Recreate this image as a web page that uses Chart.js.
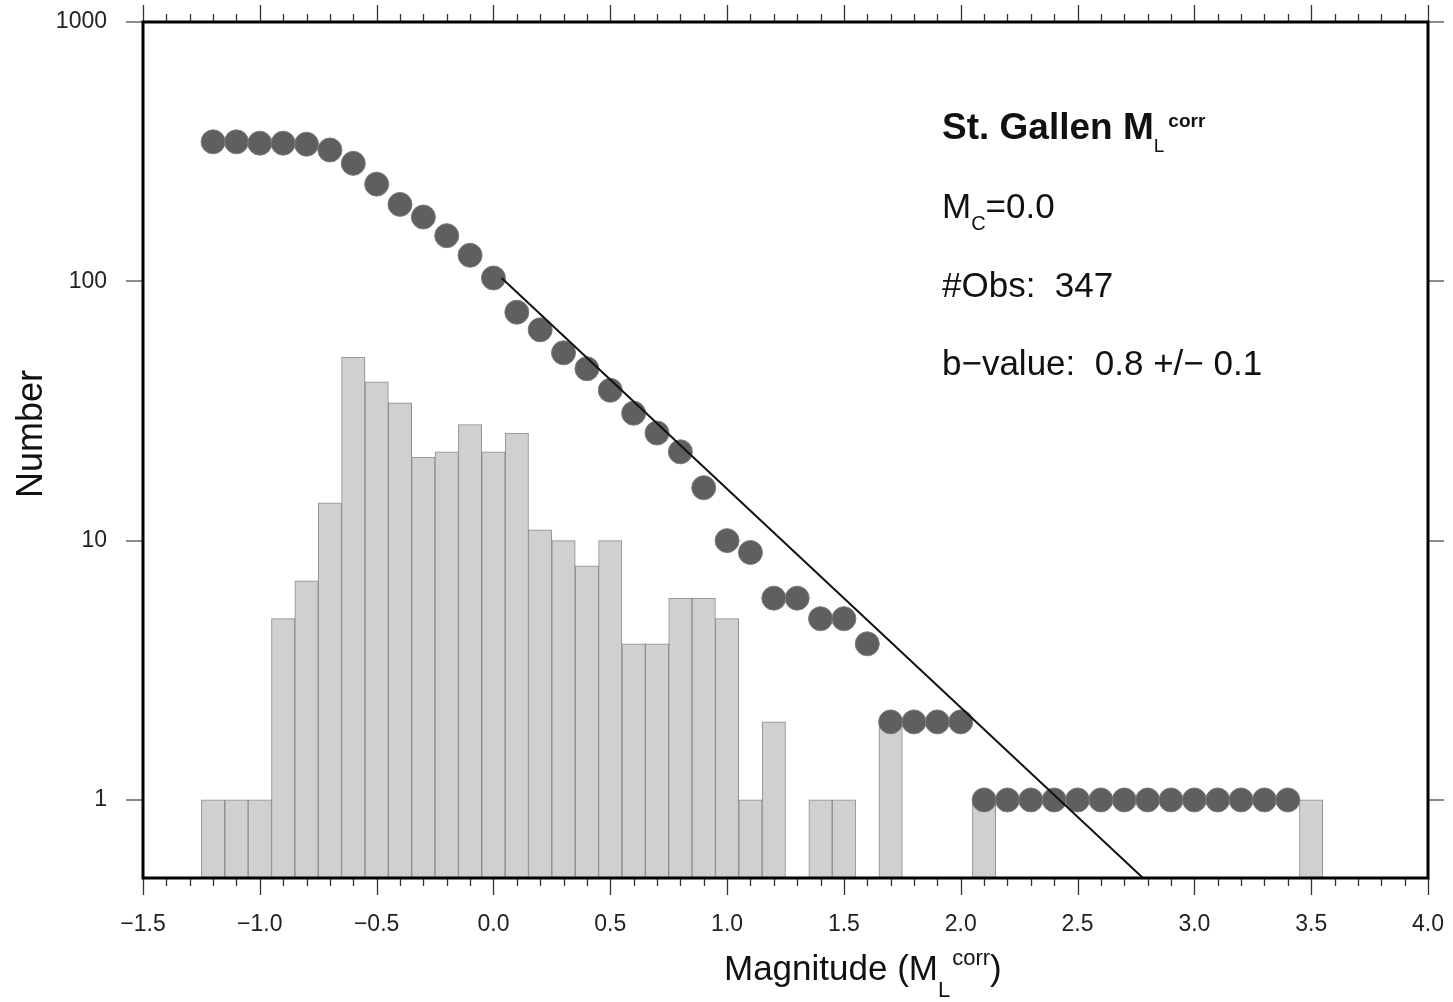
<!DOCTYPE html>
<html>
<head>
<meta charset="utf-8">
<title>St. Gallen frequency–magnitude distribution</title>
<script src="https://cdn.jsdelivr.net/npm/chart.js@4/dist/chart.umd.min.js"></script>
<style>
  html, body { margin: 0; padding: 0; background: #ffffff; }
  #wrap { width: 1453px; height: 1002px; }
</style>
</head>
<body>
<div id="wrap"><canvas id="fmd" width="1453" height="1002"></canvas></div>
<script>
// Histogram: events per 0.1 magnitude bin (bin centres)
const binCenters = [-1.2, -1.1, -1.0, -0.9, -0.8, -0.7, -0.6, -0.5, -0.4, -0.3, -0.2, -0.1,
                    0.0, 0.1, 0.2, 0.3, 0.4, 0.5, 0.6, 0.7, 0.8, 0.9, 1.0, 1.1,
                    1.2, 1.3, 1.4, 1.5, 1.6, 1.7, 1.8, 1.9, 2.0, 2.1, 2.2, 2.3,
                    2.4, 2.5, 2.6, 2.7, 2.8, 2.9, 3.0, 3.1, 3.2, 3.3, 3.4, 3.5];
const binCounts  = [1, 1, 1, 5, 7, 14, 51, 41, 34, 21, 22, 28,
                    22, 26, 11, 10, 8, 10, 4, 4, 6, 6, 5, 1,
                    2, 0, 1, 1, 0, 2, 0, 0, 0, 1, 0, 0,
                    0, 0, 0, 0, 0, 0, 0, 0, 0, 0, 0, 1];

// Cumulative number of events
const cumMags   = [-1.2, -1.1, -1.0, -0.9, -0.8, -0.7, -0.6, -0.5, -0.4, -0.3, -0.2, -0.1,
                   0.0, 0.1, 0.2, 0.3, 0.4, 0.5, 0.6, 0.7, 0.8, 0.9, 1.0, 1.1,
                   1.2, 1.3, 1.4, 1.5, 1.6, 1.7, 1.8, 1.9, 2.0, 2.1, 2.2, 2.3,
                   2.4, 2.5, 2.6, 2.7, 2.8, 2.9, 3.0, 3.1, 3.2, 3.3, 3.4];
const cumCounts = [345, 345, 341, 341, 338, 321, 285, 237, 198, 177, 150, 126,
                   103, 76, 65, 53, 46, 38, 31, 26, 22, 16, 10, 9,
                   6, 6, 5, 5, 4, 2, 2, 2, 2, 1, 1, 1,
                   1, 1, 1, 1, 1, 1, 1, 1, 1, 1, 1];

// Gutenberg–Richter fit line (end points)
const fitMags   = [0.035, 2.78];
const fitCounts = [103, 0.5];

// Axis ticks
const xMajorTicks = [-1.5, -1.0, -0.5, 0.0, 0.5, 1.0, 1.5, 2.0, 2.5, 3.0, 3.5, 4.0];
const xTickLabels = ['\u22121.5', '\u22121.0', '\u22120.5', '0.0', '0.5', '1.0', '1.5', '2.0', '2.5', '3.0', '3.5', '4.0'];
const yTicks      = [1, 10, 100, 1000];
const yTickLabels = ['1', '10', '100', '1000'];

const FONT = '"Liberation Sans", Arial, Helvetica, sans-serif';

const isMajorX = v => xMajorTicks.some(m => Math.abs(m - v) < 1e-6);

// text with inline sub/superscripts
function drawRich(ctx, x, y, parts) {
  let cx = x;
  for (const p of parts) {
    ctx.font = (p.bold ? 'bold ' : '') + p.size + 'px ' + FONT;
    ctx.fillText(p.t, cx, y + (p.dy || 0));
    cx += ctx.measureText(p.t).width + (p.gap || 0);
  }
}

// keep the plot area fixed: scales reserve no extra edge padding for labels
function noEdgePadding(scale) {
  scale.paddingTop = 0;
  scale.paddingBottom = 0;
  scale.paddingLeft = 0;
  scale.paddingRight = 0;
}

const framePlugin = {
  id: 'frameAndLabels',
  afterDraw(chart) {
    const ctx = chart.ctx;
    const a = chart.chartArea;
    const xs = chart.scales.x;
    const ys = chart.scales.y;
    ctx.save();

    // x tick marks, outward on bottom and top
    ctx.strokeStyle = '#333';
    ctx.lineWidth = 1.3;
    ctx.beginPath();
    for (const t of xs.ticks) {
      const px = Math.round(xs.getPixelForValue(t.value)) + 0.5;
      const len = isMajorX(t.value) ? 17 : 8;
      ctx.moveTo(px, a.bottom); ctx.lineTo(px, a.bottom + len);
      ctx.moveTo(px, a.top);    ctx.lineTo(px, a.top - len);
    }
    ctx.stroke();

    // y tick marks, outward on left and right
    ctx.strokeStyle = '#666';
    ctx.lineWidth = 1.5;
    ctx.beginPath();
    for (const t of ys.ticks) {
      const py = Math.round(ys.getPixelForValue(t.value));
      ctx.moveTo(a.left - 17, py); ctx.lineTo(a.left, py);
      ctx.moveTo(a.right, py);     ctx.lineTo(a.right + 16, py);
    }
    ctx.stroke();

    // plot frame
    ctx.strokeStyle = '#000';
    ctx.lineWidth = 3;
    ctx.strokeRect(a.left, a.top, a.right - a.left, a.bottom - a.top);

    // annotation block
    ctx.fillStyle = '#111';
    ctx.textAlign = 'left';
    ctx.textBaseline = 'alphabetic';
    const tx = a.left + 799;
    drawRich(ctx, tx, a.top + 117, [
      { t: 'St. Gallen M', size: 37, bold: true },
      { t: 'L', size: 19, dy: 13, gap: 4 },
      { t: 'corr', size: 19, bold: true, dy: -12 }
    ]);
    drawRich(ctx, tx, a.top + 196, [
      { t: 'M', size: 35 },
      { t: 'C', size: 20, dy: 12 },
      { t: '=0.0', size: 35 }
    ]);
    drawRich(ctx, tx, a.top + 275, [{ t: '#Obs:  347', size: 35 }]);
    drawRich(ctx, tx, a.top + 353, [{ t: 'b\u2212value:  0.8 +/\u2212 0.1', size: 35 }]);

    // x axis title
    drawRich(ctx, a.left + 581, a.bottom + 102, [
      { t: 'Magnitude (M', size: 35 },
      { t: 'L', size: 22, dy: 17, gap: 2 },
      { t: 'corr', size: 22, dy: -15 },
      { t: ')', size: 35 }
    ]);

    // y axis title
    ctx.save();
    ctx.translate(42, 434);
    ctx.rotate(-Math.PI / 2);
    ctx.textAlign = 'center';
    ctx.font = '36px ' + FONT;
    ctx.fillText('Number', 0, 0);
    ctx.restore();

    ctx.restore();
  }
};

const barData = binCenters.map((m, i) => ({ x: m, y: binCounts[i] > 0 ? binCounts[i] : null }));
const cumData = cumMags.map((m, i) => ({ x: m, y: cumCounts[i] }));
const fitData = fitMags.map((m, i) => ({ x: m, y: fitCounts[i] }));

new Chart(document.getElementById('fmd'), {
  type: 'bar',
  data: {
    datasets: [
      {
        type: 'line',
        data: fitData,
        borderColor: '#111',
        borderWidth: 2,
        pointRadius: 0,
        fill: false,
        order: 1
      },
      {
        type: 'scatter',
        data: cumData,
        pointRadius: 12,
        backgroundColor: '#5e5f61',
        borderColor: '#7a7b7d',
        borderWidth: 1,
        order: 2
      },
      {
        type: 'bar',
        data: barData,
        backgroundColor: '#cfd0d2',
        borderColor: '#8c8c8c',
        borderWidth: 1,
        borderSkipped: 'start',
        barPercentage: 1.0,
        categoryPercentage: 1.0,
        grouped: false,
        order: 3
      }
    ]
  },
  options: {
    responsive: false,
    animation: false,
    devicePixelRatio: 1,
    layout: { padding: { top: 22, right: 25, left: 0, bottom: 0 } },
    plugins: {
      legend: { display: false },
      tooltip: { enabled: false }
    },
    scales: {
      x: {
        type: 'linear',
        min: -1.5,
        max: 4.0,
        offset: false,
        grid: { display: false, drawTicks: false, offset: false },
        border: { display: false },
        afterBuildTicks(scale) {
          const ticks = [];
          for (let k = -15; k <= 40; k++) ticks.push({ value: k / 10 });
          scale.ticks = ticks;
        },
        afterFit(scale) { scale.height = 124; noEdgePadding(scale); },
        ticks: {
          autoSkip: false,
          maxRotation: 0,
          minRotation: 0,
          padding: 33,
          color: '#222',
          font: { family: FONT, size: 23 },
          callback(value) {
            const k = xMajorTicks.findIndex(m => Math.abs(m - value) < 1e-6);
            return k >= 0 ? xTickLabels[k] : '';
          }
        }
      },
      y: {
        type: 'logarithmic',
        min: 0.5,
        max: 1000,
        grid: { display: false, drawTicks: false },
        border: { display: false },
        afterBuildTicks(scale) {
          scale.ticks = yTicks.map(v => ({ value: v }));
        },
        afterFit(scale) { scale.width = 143; noEdgePadding(scale); },
        ticks: {
          autoSkip: false,
          padding: 36,
          color: '#222',
          font: { family: FONT, size: 23 },
          callback(value) {
            const k = yTicks.indexOf(value);
            return k >= 0 ? yTickLabels[k] : '';
          }
        }
      }
    }
  },
  plugins: [framePlugin]
});
</script>
</body>
</html>
